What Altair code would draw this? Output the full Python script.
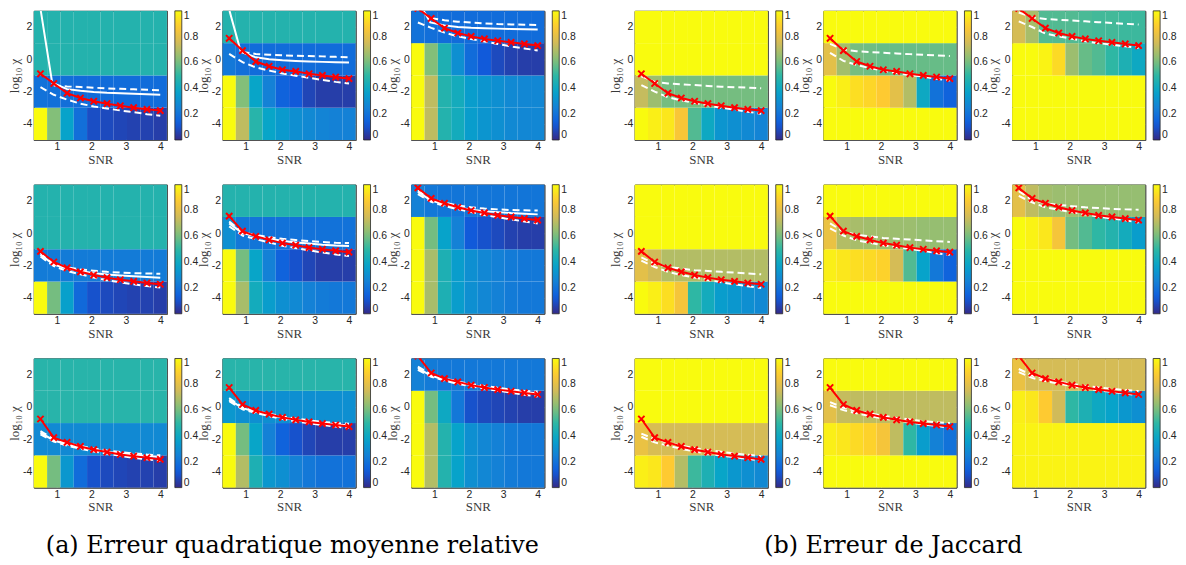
import altair as alt
import pandas as pd

# ---------------- shared axes / bins ----------------
SNR = [0.52, 0.907, 1.293, 1.68, 2.067, 2.453, 2.84, 3.227, 3.613, 4.0]
SNR_EDGES = [0.327, 0.713, 1.1, 1.487, 1.873, 2.26, 2.647, 3.033, 3.42, 3.807, 4.193]
LOGCHI_EDGES = [-5, -3, -1, 1, 3]
X_TICKS = [1, 2, 3, 4]
Y_TICKS = [-4, -2, 0, 2]
CBAR_TICKS = [0, 0.2, 0.4, 0.6, 0.8, 1]
PARULA_STOPS = [0, 0.125, 0.25, 0.375, 0.5, 0.625, 0.75, 0.875, 1]
PARULA = ["#352a87", "#0f5cdd", "#1481d6", "#06a4ca", "#2eb7a4",
          "#87bf77", "#d1bb59", "#fec832", "#f9fb0e"]

CAPTION_A = "(a) Erreur quadratique moyenne relative"
CAPTION_B = "(b) Erreur de Jaccard"

# ---------------- red curves (shared by (a) and (b)) ----------------
RED_R1C1 = [-0.9, -1.5, -2.1, -2.4, -2.6, -2.75, -2.88, -3.0, -3.1, -3.18]
RED_R1C2 = [1.3, 0.54, -0.14, -0.43, -0.65, -0.75, -0.9, -1.0, -1.1, -1.2]
RED_R1C3 = [3.15, 2.53, 1.93, 1.63, 1.42, 1.26, 1.15, 1.05, 0.95, 0.85]
RED_R2C1 = [-1.13, -1.79, -2.15, -2.4, -2.6, -2.76, -2.89, -2.99, -3.09, -3.17]
RED_R2C2 = [1.05, 0.12, -0.2, -0.42, -0.62, -0.75, -0.9, -1.0, -1.1, -1.18]
RED_R2C3 = [2.8, 2.15, 1.85, 1.6, 1.4, 1.25, 1.1, 1.0, 0.9, 0.8]
RED_R3C1 = [-0.75, -1.9, -2.2, -2.45, -2.65, -2.8, -2.95, -3.05, -3.15, -3.25]
RED_R3C2 = [1.2, 0.15, -0.22, -0.45, -0.65, -0.8, -0.93, -1.03, -1.12, -1.22]
RED_R3C3 = [3.15, 2.1, 1.75, 1.55, 1.35, 1.2, 1.07, 0.97, 0.87, 0.77]

# ---------------- (a) white curves ----------------
SOLIDX_A1 = [0.53, 0.86, 1.293, 1.68, 2.067, 2.453, 2.84, 3.227, 3.613, 4.0]
SOLIDX_A3 = [0.69, 0.88, 1.293, 1.68, 2.067, 2.453, 2.84, 3.227, 3.613, 4.0]
SOLID_A1 = [3.0, -1.45, -1.85, -1.95, -2.02, -2.07, -2.1, -2.13, -2.16, -2.2]
SOLID_A2 = [3.0, 0.45, 0.12, 0.0, -0.06, -0.1, -0.13, -0.16, -0.18, -0.2]
SOLID_A3 = [3.0, 2.28, 2.1, 2.0, 1.95, 1.92, 1.9, 1.88, 1.86, 1.85]
SOLID_A4 = [-1.34, -1.95, -2.2, -2.35, -2.48, -2.57, -2.63, -2.68, -2.72, -2.76]
SOLID_A5 = [0.6, 0.0, -0.2, -0.35, -0.48, -0.58, -0.65, -0.72, -0.77, -0.8]
SOLID_A6 = [2.55, 2.02, 1.78, 1.6, 1.45, 1.36, 1.3, 1.24, 1.2, 1.16]
SOLID_A7 = [-1.6, -2.08, -2.32, -2.5, -2.65, -2.78, -2.88, -2.97, -3.04, -3.1]
SOLID_A8 = [0.45, -0.08, -0.3, -0.5, -0.65, -0.8, -0.9, -1.0, -1.08, -1.15]
SOLID_A9 = [2.4, 1.93, 1.7, 1.5, 1.35, 1.22, 1.1, 1.0, 0.92, 0.85]

UP_A1 = [None, -1.62, -1.68, -1.72, -1.76, -1.8, -1.83, -1.86, -1.89, -1.92]
LO_A1 = [-1.72, -2.2, -2.5, -2.75, -2.92, -3.05, -3.17, -3.28, -3.4, -3.5]
UP_A2 = [None, 0.45, 0.33, 0.28, 0.25, 0.22, 0.2, 0.18, 0.15, 0.13]
LO_A2 = [0.33, -0.18, -0.5, -0.7, -0.88, -1.02, -1.15, -1.28, -1.4, -1.5]
UP_A3 = [None, 2.55, 2.42, 2.33, 2.27, 2.22, 2.18, 2.16, 2.14, 2.12]
LO_A3 = [2.28, 1.95, 1.65, 1.42, 1.25, 1.1, 0.95, 0.8, 0.67, 0.55]
UP_A4 = [-1.25, -1.88, -2.12, -2.25, -2.33, -2.4, -2.45, -2.48, -2.5, -2.52]
LO_A4 = [-1.45, -2.05, -2.35, -2.55, -2.75, -2.92, -3.05, -3.17, -3.28, -3.37]
UP_A5 = [0.72, 0.05, -0.12, -0.25, -0.35, -0.43, -0.5, -0.55, -0.6, -0.62]
LO_A5 = [0.42, -0.15, -0.38, -0.58, -0.78, -0.93, -1.07, -1.2, -1.32, -1.42]
UP_A6 = [2.65, 2.1, 1.88, 1.72, 1.6, 1.52, 1.47, 1.43, 1.41, 1.4]
LO_A6 = [2.42, 1.93, 1.68, 1.48, 1.3, 1.12, 0.98, 0.85, 0.72, 0.6]
UP_A7 = [-1.5, -2.0, -2.25, -2.42, -2.58, -2.7, -2.8, -2.88, -2.95, -3.0]
LO_A7 = [-1.7, -2.15, -2.4, -2.6, -2.76, -2.9, -3.03, -3.15, -3.25, -3.35]
UP_A8 = [0.55, -0.03, -0.25, -0.43, -0.58, -0.72, -0.83, -0.93, -1.0, -1.05]
LO_A8 = [0.35, -0.15, -0.37, -0.57, -0.75, -0.9, -1.02, -1.12, -1.22, -1.3]
UP_A9 = [2.5, 2.0, 1.77, 1.57, 1.42, 1.3, 1.18, 1.08, 1.0, 0.95]
LO_A9 = [2.3, 1.87, 1.63, 1.43, 1.27, 1.12, 1.0, 0.88, 0.76, 0.65]

# ---------------- (b) white dashed curves ----------------
UP_B1 = [-1.05, -1.4, -1.5, -1.55, -1.6, -1.65, -1.7, -1.73, -1.76, -1.8]
LO_B1 = [-1.6, -2.0, -2.35, -2.55, -2.7, -2.85, -3.0, -3.12, -3.25, -3.38]
UP_B2 = [0.95, 0.6, 0.5, 0.45, 0.4, 0.36, 0.32, 0.28, 0.24, 0.2]
LO_B2 = [0.4, -0.1, -0.35, -0.55, -0.7, -0.85, -0.97, -1.08, -1.2, -1.32]
UP_B3 = [2.9, 2.6, 2.5, 2.45, 2.4, 2.35, 2.3, 2.25, 2.2, 2.15]
LO_B3 = [2.35, 2.0, 1.6, 1.42, 1.27, 1.12, 1.0, 0.9, 0.8, 0.7]
UP_B4 = [-1.5, -1.9, -2.1, -2.2, -2.3, -2.35, -2.4, -2.45, -2.5, -2.55]
LO_B4 = [-1.7, -2.1, -2.4, -2.6, -2.75, -2.9, -3.05, -3.17, -3.3, -3.4]
UP_B5 = [0.6, 0.1, -0.1, -0.2, -0.3, -0.35, -0.4, -0.45, -0.5, -0.55]
LO_B5 = [0.3, -0.15, -0.45, -0.6, -0.75, -0.87, -0.97, -1.1, -1.25, -1.35]
UP_B6 = [2.6, 2.05, 1.85, 1.75, 1.67, 1.6, 1.55, 1.5, 1.47, 1.45]
LO_B6 = [2.3, 1.9, 1.6, 1.45, 1.3, 1.15, 1.02, 0.9, 0.8, 0.65]
UP_B7 = [-1.65, -2.0, -2.22, -2.4, -2.55, -2.68, -2.78, -2.88, -2.97, -3.05]
LO_B7 = [-1.85, -2.2, -2.4, -2.6, -2.75, -2.9, -3.02, -3.12, -3.22, -3.32]
UP_B8 = [0.3, -0.05, -0.25, -0.4, -0.55, -0.68, -0.78, -0.88, -0.95, -1.0]
LO_B8 = [0.1, -0.2, -0.4, -0.57, -0.72, -0.85, -0.97, -1.08, -1.18, -1.3]
UP_B9 = [2.35, 1.95, 1.75, 1.57, 1.42, 1.3, 1.2, 1.12, 1.05, 0.98]
LO_B9 = [2.15, 1.8, 1.6, 1.44, 1.28, 1.15, 1.03, 0.93, 0.83, 0.72]

# ---------------- heat maps: bands from bottom [-5,-3], [-3,-1], [-1,1], [1,3] ----------------
HEAT_A1 = [[1.0, 0.62, 0.37, 0.19, 0.09, 0.08, 0.07, 0.06, 0.06, 0.05],
           [0.2, 0.19, 0.19, 0.18, 0.18, 0.18, 0.18, 0.18, 0.18, 0.18],
           [0.47, 0.47, 0.47, 0.47, 0.47, 0.47, 0.47, 0.47, 0.47, 0.47],
           [0.47, 0.47, 0.47, 0.47, 0.47, 0.47, 0.47, 0.47, 0.47, 0.47]]
HEAT_A2 = [[1.0, 0.72, 0.48, 0.38, 0.34, 0.3, 0.28, 0.26, 0.25, 0.25],
           [1.0, 0.62, 0.38, 0.25, 0.15, 0.12, 0.07, 0.05, 0.05, 0.05],
           [0.22, 0.19, 0.18, 0.18, 0.18, 0.18, 0.18, 0.18, 0.18, 0.18],
           [0.47, 0.47, 0.47, 0.47, 0.47, 0.47, 0.47, 0.47, 0.47, 0.47]]
HEAT_A3 = [[1.0, 0.72, 0.47, 0.42, 0.35, 0.32, 0.3, 0.28, 0.27, 0.27],
           [1.0, 0.72, 0.47, 0.42, 0.35, 0.32, 0.3, 0.28, 0.27, 0.27],
           [1.0, 0.62, 0.45, 0.3, 0.18, 0.12, 0.08, 0.06, 0.05, 0.05],
           [0.2, 0.19, 0.18, 0.18, 0.18, 0.18, 0.18, 0.18, 0.18, 0.18]]
HEAT_A4 = [[1.0, 0.6, 0.36, 0.17, 0.1, 0.08, 0.07, 0.06, 0.06, 0.05],
           [0.23, 0.23, 0.23, 0.23, 0.23, 0.23, 0.23, 0.23, 0.23, 0.23],
           [0.47, 0.47, 0.47, 0.47, 0.47, 0.47, 0.47, 0.47, 0.47, 0.47],
           [0.47, 0.47, 0.47, 0.47, 0.47, 0.47, 0.47, 0.47, 0.47, 0.47]]
HEAT_A5 = [[1.0, 0.68, 0.42, 0.35, 0.3, 0.28, 0.25, 0.23, 0.22, 0.22],
           [1.0, 0.6, 0.38, 0.25, 0.15, 0.1, 0.07, 0.05, 0.05, 0.05],
           [0.3, 0.22, 0.21, 0.2, 0.2, 0.2, 0.2, 0.2, 0.2, 0.2],
           [0.47, 0.47, 0.47, 0.47, 0.47, 0.47, 0.47, 0.47, 0.47, 0.47]]
HEAT_A6 = [[1.0, 0.68, 0.45, 0.35, 0.3, 0.27, 0.25, 0.23, 0.22, 0.22],
           [1.0, 0.68, 0.45, 0.35, 0.3, 0.27, 0.25, 0.23, 0.22, 0.22],
           [1.0, 0.6, 0.37, 0.25, 0.12, 0.1, 0.08, 0.06, 0.05, 0.05],
           [0.25, 0.22, 0.21, 0.21, 0.21, 0.21, 0.21, 0.21, 0.21, 0.21]]
HEAT_A7 = [[1.0, 0.6, 0.33, 0.18, 0.1, 0.08, 0.07, 0.06, 0.06, 0.05],
           [0.28, 0.28, 0.28, 0.28, 0.28, 0.28, 0.28, 0.28, 0.28, 0.28],
           [0.48, 0.48, 0.48, 0.48, 0.48, 0.48, 0.48, 0.48, 0.48, 0.48],
           [0.48, 0.48, 0.48, 0.48, 0.48, 0.48, 0.48, 0.48, 0.48, 0.48]]
HEAT_A8 = [[1.0, 0.7, 0.45, 0.33, 0.3, 0.25, 0.22, 0.2, 0.2, 0.2],
           [1.0, 0.6, 0.38, 0.25, 0.15, 0.1, 0.07, 0.05, 0.05, 0.05],
           [0.33, 0.3, 0.3, 0.3, 0.3, 0.3, 0.3, 0.3, 0.3, 0.3],
           [0.48, 0.48, 0.48, 0.48, 0.48, 0.48, 0.48, 0.48, 0.48, 0.48]]
HEAT_A9 = [[1.0, 0.7, 0.47, 0.37, 0.3, 0.27, 0.25, 0.23, 0.22, 0.22],
           [1.0, 0.7, 0.47, 0.37, 0.3, 0.27, 0.25, 0.23, 0.22, 0.22],
           [1.0, 0.6, 0.4, 0.22, 0.1, 0.08, 0.07, 0.06, 0.05, 0.05],
           [0.25, 0.23, 0.22, 0.22, 0.22, 0.22, 0.22, 0.22, 0.22, 0.22]]

HEAT_B1 = [[1.0, 0.97, 0.95, 0.86, 0.55, 0.4, 0.32, 0.3, 0.28, 0.26],
           [0.73, 0.66, 0.6, 0.6, 0.6, 0.6, 0.6, 0.6, 0.6, 0.6],
           [1.0, 1.0, 1.0, 1.0, 1.0, 1.0, 1.0, 1.0, 1.0, 1.0],
           [1.0, 1.0, 1.0, 1.0, 1.0, 1.0, 1.0, 1.0, 1.0, 1.0]]
HEAT_B2 = [[1.0, 1.0, 1.0, 1.0, 1.0, 1.0, 1.0, 1.0, 1.0, 1.0],
           [1.0, 0.97, 0.93, 0.91, 0.88, 0.8, 0.7, 0.4, 0.2, 0.15],
           [0.8, 0.67, 0.6, 0.59, 0.58, 0.58, 0.58, 0.58, 0.58, 0.58],
           [1.0, 1.0, 1.0, 1.0, 1.0, 1.0, 1.0, 1.0, 1.0, 1.0]]
HEAT_B3 = [[1.0, 1.0, 1.0, 1.0, 1.0, 1.0, 1.0, 1.0, 1.0, 1.0],
           [1.0, 1.0, 1.0, 1.0, 1.0, 1.0, 1.0, 1.0, 1.0, 1.0],
           [1.0, 1.0, 0.98, 0.92, 0.66, 0.58, 0.55, 0.5, 0.45, 0.4],
           [0.76, 0.68, 0.55, 0.55, 0.55, 0.54, 0.53, 0.53, 0.52, 0.52]]
HEAT_B4 = [[1.0, 0.97, 0.93, 0.85, 0.5, 0.42, 0.35, 0.33, 0.3, 0.28],
           [0.8, 0.75, 0.7, 0.7, 0.7, 0.7, 0.7, 0.7, 0.7, 0.7],
           [1.0, 1.0, 1.0, 1.0, 1.0, 1.0, 1.0, 1.0, 1.0, 1.0],
           [1.0, 1.0, 1.0, 1.0, 1.0, 1.0, 1.0, 1.0, 1.0, 1.0]]
HEAT_B5 = [[1.0, 1.0, 1.0, 1.0, 1.0, 1.0, 1.0, 1.0, 1.0, 1.0],
           [0.97, 0.95, 0.93, 0.92, 0.9, 0.76, 0.55, 0.37, 0.22, 0.15],
           [0.82, 0.7, 0.68, 0.67, 0.67, 0.66, 0.66, 0.65, 0.65, 0.65],
           [1.0, 1.0, 1.0, 1.0, 1.0, 1.0, 1.0, 1.0, 1.0, 1.0]]
HEAT_B6 = [[1.0, 1.0, 1.0, 1.0, 1.0, 1.0, 1.0, 1.0, 1.0, 1.0],
           [1.0, 1.0, 1.0, 1.0, 1.0, 1.0, 1.0, 1.0, 1.0, 1.0],
           [1.0, 0.98, 0.95, 0.85, 0.6, 0.55, 0.5, 0.47, 0.42, 0.35],
           [0.8, 0.72, 0.67, 0.66, 0.66, 0.65, 0.65, 0.65, 0.65, 0.65]]
HEAT_B7 = [[0.97, 0.95, 0.88, 0.7, 0.52, 0.45, 0.38, 0.33, 0.3, 0.28],
           [0.82, 0.77, 0.76, 0.76, 0.76, 0.76, 0.76, 0.76, 0.76, 0.76],
           [1.0, 1.0, 1.0, 1.0, 1.0, 1.0, 1.0, 1.0, 1.0, 1.0],
           [1.0, 1.0, 1.0, 1.0, 1.0, 1.0, 1.0, 1.0, 1.0, 1.0]]
HEAT_B8 = [[1.0, 1.0, 1.0, 1.0, 1.0, 1.0, 1.0, 1.0, 1.0, 1.0],
           [0.97, 0.95, 0.92, 0.9, 0.85, 0.72, 0.5, 0.35, 0.25, 0.2],
           [0.8, 0.73, 0.72, 0.72, 0.72, 0.72, 0.72, 0.72, 0.72, 0.72],
           [1.0, 1.0, 1.0, 1.0, 1.0, 1.0, 1.0, 1.0, 1.0, 1.0]]
HEAT_B9 = [[0.98, 0.98, 0.98, 0.98, 0.98, 0.98, 0.98, 0.98, 0.98, 0.98],
           [0.98, 0.98, 0.98, 0.98, 0.98, 0.98, 0.98, 0.98, 0.98, 0.98],
           [0.97, 0.95, 0.88, 0.75, 0.5, 0.45, 0.4, 0.37, 0.33, 0.3],
           [0.82, 0.76, 0.76, 0.76, 0.76, 0.76, 0.76, 0.76, 0.76, 0.76]]

PW, PH = 134, 130
FRAME = "#555555"

X_SCALE = alt.Scale(domain=[SNR_EDGES[0], SNR_EDGES[-1]], nice=False, zero=False)
Y_SCALE = alt.Scale(domain=[LOGCHI_EDGES[0], LOGCHI_EDGES[-1]], nice=False, zero=False)
C_SCALE = alt.Scale(domain=PARULA_STOPS, range=PARULA, interpolate="rgb")
X_AXIS = alt.Axis(values=X_TICKS, title="SNR", domain=True, domainColor=FRAME, domainWidth=1)
Y_AXIS = alt.Axis(values=Y_TICKS, title="log\u2081\u2080 \u03c7", labelExpr="datum.value + ''",
                  domain=True, domainColor=FRAME, domainWidth=1)
X_TOP = alt.Axis(orient="top", values=X_TICKS, labels=False, title=None, grid=False,
                 domain=True, domainColor=FRAME, domainWidth=1)
Y_RIGHT = alt.Axis(orient="right", values=Y_TICKS, labels=False, title=None, grid=False,
                   domain=True, domainColor=FRAME, domainWidth=1)
LEGEND = alt.Legend(title=None, type="gradient", orient="right", direction="vertical",
                    gradientLength=PH, gradientThickness=7, values=CBAR_TICKS, offset=8,
                    gradientStrokeColor="#262626", gradientStrokeWidth=0.8,
                    labelFont="Liberation Sans", labelFontSize=10.5, labelColor="#262626",
                    labelExpr="datum.value + ''", labelOverlap=False, labelOffset=2, padding=0)


def heat_df(h):
    rows = []
    for i, band in enumerate(h):
        for j, v in enumerate(band):
            rows.append(dict(x0=SNR_EDGES[j], x1=SNR_EDGES[j + 1],
                             y0=LOGCHI_EDGES[i], y1=LOGCHI_EDGES[i + 1], v=v))
    return pd.DataFrame(rows)


def line_df(xs, ys, name):
    return pd.DataFrame([dict(snr=x, lc=y, s=name) for x, y in zip(xs, ys) if y is not None])


def enc_xy(xaxis=None, yaxis=None):
    return dict(x=alt.X("snr:Q", scale=X_SCALE, axis=xaxis),
                y=alt.Y("lc:Q", scale=Y_SCALE, axis=yaxis))


def panel(heat, red, up, lo, solid=None, solid_x=None):
    hm = alt.Chart(heat_df(heat)).mark_rect().encode(
        x=alt.X("x0:Q", scale=X_SCALE, axis=X_AXIS), x2="x1:Q",
        y=alt.Y("y0:Q", scale=Y_SCALE, axis=Y_AXIS), y2="y1:Q",
        color=alt.Color("v:Q", scale=C_SCALE, legend=LEGEND),
    )
    layers = [hm]
    dash_df = pd.concat([line_df(SNR, up, "up"), line_df(SNR, lo, "lo")])
    layers.append(alt.Chart(dash_df).mark_line(
        color="white", strokeDash=[7, 4], strokeWidth=2, clip=True).encode(
        detail="s:N", **enc_xy()))
    if solid is not None:
        layers.append(alt.Chart(line_df(solid_x or SNR, solid, "solid")).mark_line(
            color="white", strokeWidth=2, clip=True).encode(**enc_xy()))
    rdf = line_df(SNR, red, "red")
    layers.append(alt.Chart(rdf).mark_line(color="#ff0000", strokeWidth=2, clip=True).encode(**enc_xy()))
    layers.append(alt.Chart(rdf).mark_point(
        shape="M-1,-1L1,1M-1,1L1,-1", color="#ff0000", filled=False, strokeWidth=2,
        size=40, opacity=1, clip=True).encode(**enc_xy(X_TOP, Y_RIGHT)))
    return (alt.layer(*layers).properties(width=PW, height=PH)
            .resolve_axis(x="independent", y="independent"))


A = [
    panel(HEAT_A1, RED_R1C1, UP_A1, LO_A1, SOLID_A1, SOLIDX_A1),
    panel(HEAT_A2, RED_R1C2, UP_A2, LO_A2, SOLID_A2, SOLIDX_A1),
    panel(HEAT_A3, RED_R1C3, UP_A3, LO_A3, SOLID_A3, SOLIDX_A3),
    panel(HEAT_A4, RED_R2C1, UP_A4, LO_A4, SOLID_A4),
    panel(HEAT_A5, RED_R2C2, UP_A5, LO_A5, SOLID_A5),
    panel(HEAT_A6, RED_R2C3, UP_A6, LO_A6, SOLID_A6),
    panel(HEAT_A7, RED_R3C1, UP_A7, LO_A7, SOLID_A7),
    panel(HEAT_A8, RED_R3C2, UP_A8, LO_A8, SOLID_A8),
    panel(HEAT_A9, RED_R3C3, UP_A9, LO_A9, SOLID_A9),
]
B = [
    panel(HEAT_B1, RED_R1C1, UP_B1, LO_B1),
    panel(HEAT_B2, RED_R1C2, UP_B2, LO_B2),
    panel(HEAT_B3, RED_R1C3, UP_B3, LO_B3),
    panel(HEAT_B4, RED_R2C1, UP_B4, LO_B4),
    panel(HEAT_B5, RED_R2C2, UP_B5, LO_B5),
    panel(HEAT_B6, RED_R2C3, UP_B6, LO_B6),
    panel(HEAT_B7, RED_R3C1, UP_B7, LO_B7),
    panel(HEAT_B8, RED_R3C2, UP_B8, LO_B8),
    panel(HEAT_B9, RED_R3C3, UP_B9, LO_B9),
]


def group(panels, caption):
    rows = []
    for r in range(3):
        rows.append(alt.hconcat(*panels[3 * r:3 * r + 3], spacing=-3)
                    .resolve_scale(color="independent")
                    .resolve_legend(color="independent"))
    return (alt.vconcat(*rows, spacing=17,
                        title=alt.TitleParams(text=caption, orient="bottom", anchor="middle",
                                              font="DejaVu Serif", fontSize=24,
                                              fontWeight="normal", color="black", offset=20))
            .resolve_scale(color="independent")
            .resolve_legend(color="independent"))


chart = (alt.hconcat(group(A, CAPTION_A), group(B, CAPTION_B), spacing=32)
         .resolve_scale(color="independent")
         .resolve_legend(color="independent")
         .properties(padding={"left": 0, "top": 0, "right": 0, "bottom": 0})
         .configure_axis(labelFont="Liberation Sans", labelFontSize=10.5, labelColor="#262626",
                         titleFont="Liberation Serif", titleFontSize=13, titleFontWeight="normal",
                         titleColor="#3a3a3a", grid=True, gridColor="white", gridDash=[2, 2],
                         gridOpacity=0.55, gridWidth=0.8, ticks=False, domain=False,
                         labelPadding=2, titlePadding=1, zindex=1)
         .configure_view(stroke="#262626", strokeWidth=1)
         .configure_concat(spacing=0))

chart.save("out.html", embed_options={"renderer": "svg", "actions": False})
